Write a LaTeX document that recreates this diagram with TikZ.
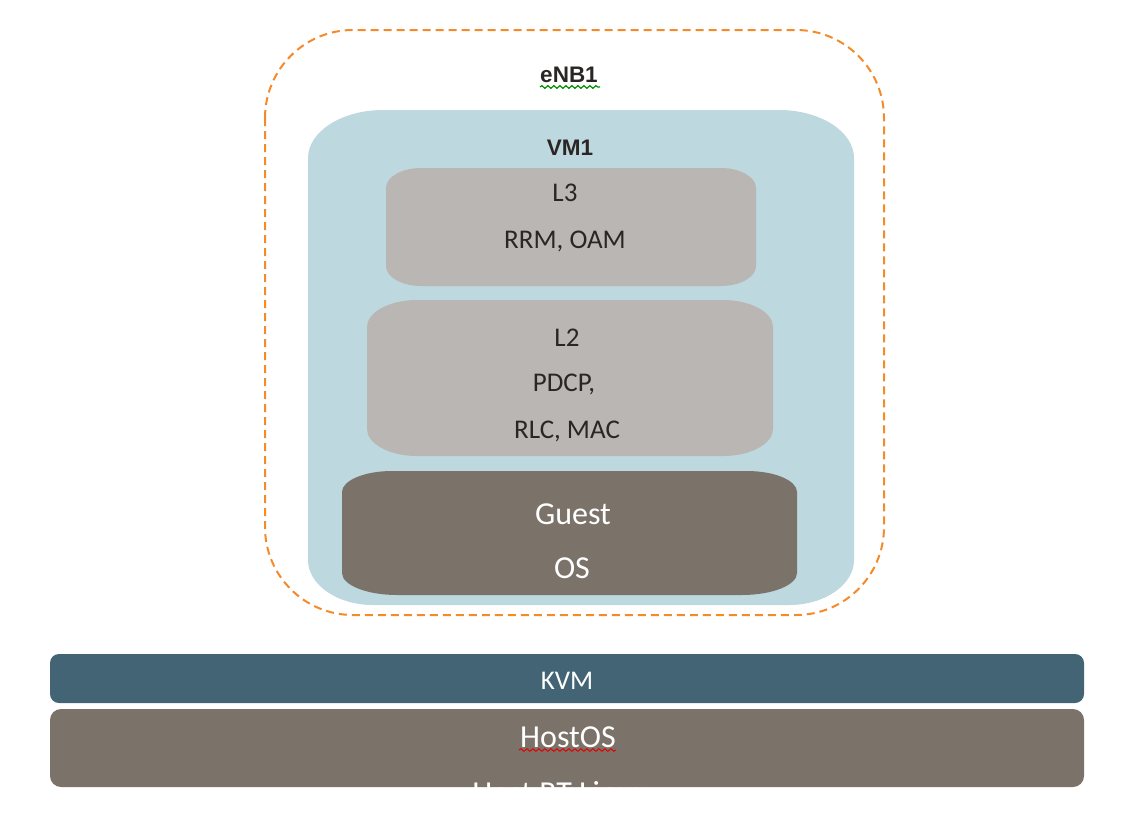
\documentclass[tikz,border=0pt]{standalone}
\usepackage{fontspec}
\setmainfont{Carlito}
\newfontfamily\arialb{Liberation Sans}
\usetikzlibrary{decorations.pathmorphing}
\definecolor{enborange}{HTML}{F58A2A}
\definecolor{vmblue}{HTML}{BDD8DE}
\definecolor{layergrey}{HTML}{BAB6B3}
\definecolor{osbrown}{HTML}{7B736A}
\definecolor{kvmblue}{HTML}{426475}
\definecolor{txtdark}{HTML}{2A2624}
% elliptical-corner box: style, x1,y1,x2,y2, top rx, top ry, bottom rx, bottom ry
\newcommand\ebox[9]{%
  \fill[#1] ({#2+#6},#3) -- ({#4-#6},#3)
    .. controls ({#4-0.45*#6},#3) and (#4,{#3+0.45*#7}) .. (#4,{#3+#7})
    -- (#4,{#5-#9})
    .. controls (#4,{#5-0.45*#9}) and ({#4-0.45*#8},#5) .. ({#4-#8},#5)
    -- ({#2+#8},#5)
    .. controls ({#2+0.45*#8},#5) and (#2,{#5-0.45*#9}) .. (#2,{#5-#9})
    -- (#2,{#3+#7})
    .. controls (#2,{#3+0.45*#7}) and ({#2+0.45*#6},#3) .. cycle;}
\tikzset{
  lbl/.style={font=\fontsize{27}{31}\selectfont, text=txtdark, inner sep=0pt},
  wlbl/.style={font=\fontsize{32}{36}\selectfont, text=white, inner sep=0pt},
  blbl/.style={font=\arialb\bfseries\fontsize{22.5}{26}\selectfont, text=txtdark, inner sep=0pt},
  squig/.style={decorate, decoration={snake, amplitude=1.3pt, segment length=6pt}, line width=1.2pt},
}
\begin{document}
\begin{tikzpicture}[x=1pt,y=-1pt]
\useasboundingbox (0,0) rectangle (1126,822);
% eNB1 dashed container
\draw[enborange, line width=2pt, dash pattern=on 8pt off 5pt, rounded corners=88pt]
  (265,30) rectangle (884,615);
% VM1
\ebox{vmblue}{308}{110}{854}{605}{75}{48}{65}{45}
% L3
\ebox{layergrey}{386}{168}{756}{286}{35}{20}{35}{20}
% L2
\ebox{layergrey}{367}{300}{773}{456}{50}{27}{50}{27}
% Guest OS
\ebox{osbrown}{342}{471}{797}{595}{50}{21}{55}{22}
% KVM and HostOS bars
\fill[kvmblue, rounded corners=9pt] (50,654) rectangle (1084,703);
\fill[osbrown, rounded corners=11pt] (50,709) rectangle (1084,787);

\node[blbl] (enb) at (569,75) {eNB1};
\draw[squig, green!55!black] (540,87) -- (600,87);
\node[blbl] (vm) at (570,148) {VM1};
\node[lbl] (l3) at (565,193) {L3};
\node[lbl] (l3b) at (565,241) {RRM, OAM};
\node[lbl] (l2) at (567,338) {L2};
\node[lbl] (l2b) at (564,384) {PDCP,};
\node[lbl] (l2c) at (567,431) {RLC, MAC};
\node[wlbl] (g1) at (573,514) {Guest};
\node[wlbl] (g2) at (572,568) {OS};
\node[wlbl, font=\fontsize{27}{31}\selectfont] (kvm) at (567,681) {KVM};
\node[wlbl] (host) at (568,737) {HostOS};
\draw[squig, red!90!black, line width=1pt] (519,750) -- (616,750);
\node[wlbl, anchor=north] (rt) at (560,781) {Host RT Linux};
\end{tikzpicture}
\end{document}
